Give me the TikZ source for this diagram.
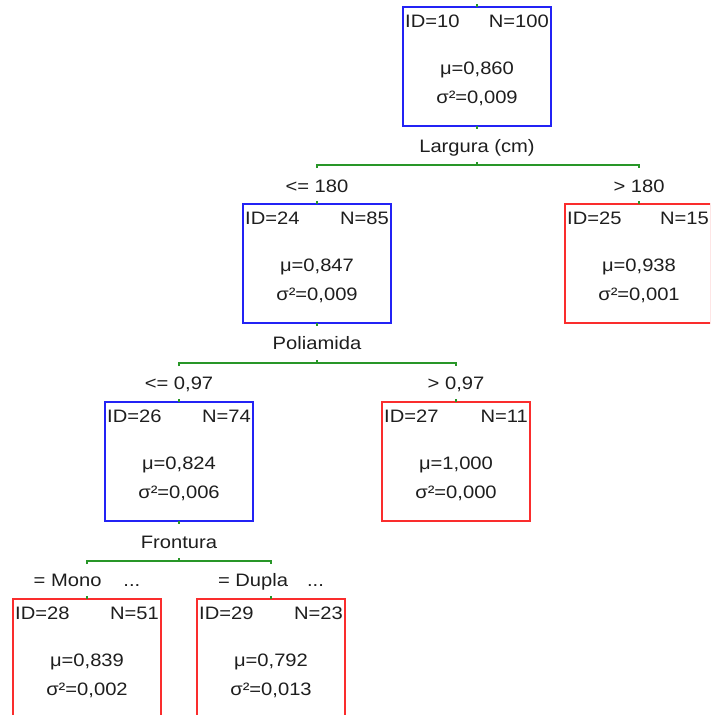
\documentclass[tikz,border=0pt]{standalone}
\usepackage{fontspec}
\setmainfont{Liberation Sans}[FakeStretch=1.12]
\usetikzlibrary{calc}

\definecolor{splitblue}{RGB}{35,35,245}
\definecolor{leafred}{RGB}{250,45,45}
\definecolor{branchgreen}{RGB}{40,150,40}
\definecolor{ink}{RGB}{30,30,30}

\tikzset{
  nodebox/.style={draw, line width=1.8pt, minimum width=148pt, minimum height=119pt,
    inner sep=0pt, outer sep=0pt, anchor=north west},
  boxtext/.style={text=ink, font=\fontsize{18}{21}\selectfont, inner sep=0pt},
  splittext/.style={text=ink, font=\fontsize{18}{21}\selectfont, inner sep=0pt, anchor=base},
  branch/.style={draw=branchgreen, line width=1.4pt},
}

% one tree node: [extra box options], name, left, top, frame colour, id, count, mean, variance
\newcommand{\treenode}[9][]{%
  \node[nodebox, draw=#5, #1] (#2) at (#3,#4) {};
  \node[boxtext, anchor=base west] at ($(#2.north west)+(2,20)$) {ID=#6};
  \node[boxtext, anchor=base east] at ($(#2.north east)+(-2,20)$) {N=#7};
  \node[boxtext, anchor=base] at ($(#2.north west)+(74,67)$) {μ=#8};
  \node[boxtext, anchor=base] at ($(#2.north west)+(74,96)$) {σ²=#9};
}

\begin{document}
\begin{tikzpicture}[x=1pt,y=-1pt]
\useasboundingbox (0,0) rectangle (710,715);
\clip (0,0) rectangle (710,715);
\fill[white] (0,0) rectangle (710,715);

% nodes
\treenode{n10}{403}{7}{splitblue}{10}{100}{0,860}{0,009}
\treenode{n24}{243}{204}{splitblue}{24}{85}{0,847}{0,009}
\treenode[minimum width=146pt]{n25}{565}{204}{leafred}{25}{15}{0,938}{0,001}
\treenode{n26}{105}{402}{splitblue}{26}{74}{0,824}{0,006}
\treenode{n27}{382}{402}{leafred}{27}{11}{1,000}{0,000}
\treenode{n28}{13}{599}{leafred}{28}{51}{0,839}{0,002}
\treenode{n29}{197}{599}{leafred}{29}{23}{0,792}{0,013}

% split variables
\node[splittext] (s10) at ($(n10.south)+(0,26)$) {Largura (cm)};
\node[splittext] (s24) at ($(n24.south)+(0,26)$) {Poliamida};
\node[splittext] (s26) at ($(n26.south)+(0,27)$) {Frontura};

% branch bars
\coordinate (b24) at ($(n24.north)+(0,-39)$);
\coordinate (b25) at ($(n25.north west)+(74,-39)$);
\coordinate (b26) at ($(n26.north)+(0,-39)$);
\coordinate (b27) at ($(n27.north)+(0,-39)$);
\coordinate (b28) at ($(n28.north)+(0,-38)$);
\coordinate (b29) at ($(n29.north)+(0,-38)$);

\coordinate (c10) at (n10.south |- b24);
\coordinate (c24) at (n24.south |- b26);
\coordinate (c26) at (n26.south |- b28);

\draw[branch] ($(b24)+(0,3)$) -- (b24) -- (b25) -- ++(0,3);
\draw[branch] ($(b26)+(0,3)$) -- (b26) -- (b27) -- ++(0,3);
\draw[branch] ($(b28)+(0,3)$) -- (b28) -- (b29) -- ++(0,3);

% small ticks at node tops, node bottoms and bar centres
\foreach \n in {n10,n24,n26,n27,n28,n29}
  \draw[branch] (\n.north) -- ++(0,-3);
\draw[branch] ($(n25.north west)+(74,0)$) -- ++(0,-3);
\foreach \n in {n10,n24,n26}
  \draw[branch] (\n.south) -- ++(0,3);
\foreach \c in {c10,c24,c26}
  \draw[branch] (\c) -- ++(0,-3);

% branch conditions
\node[splittext] at ($(b24)+(0,27)$) {<= 180};
\node[splittext] at ($(b25)+(0,27)$) {> 180};
\node[splittext] at ($(b26)+(0,26)$) {<= 0,97};
\node[splittext] at ($(b27)+(0,26)$) {> 0,97};
\node[splittext] at ($(b28)+(0,25)$) {= Mono\hspace{22pt}...};
\node[splittext] at ($(b29)+(0,25)$) {= Dupla\hspace{19pt}...};
\end{tikzpicture}
\end{document}
